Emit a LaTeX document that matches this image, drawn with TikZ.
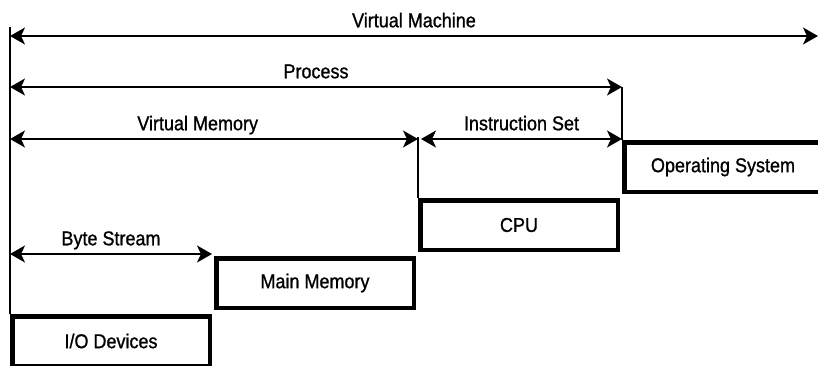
\documentclass[tikz,border=0pt]{standalone}
\usepackage{fontspec}
\setmainfont{Liberation Sans}[FakeStretch=0.9,FakeBold=1]
\usetikzlibrary{arrows.meta,positioning}

\begin{document}
\begin{tikzpicture}[x=1pt,y=-1pt,font=\fontsize{20}{24}\selectfont,
  layer/.style={draw,line width=4.5pt,minimum width=197.5pt,minimum height=49.5pt,inner sep=0pt},
  span/.style={line width=1.5pt,{Stealth[length=15pt,width=17pt,inset=4pt]}-{Stealth[length=15pt,width=17pt,inset=4pt]}},
  rule/.style={line width=1.5pt},
  tag/.style={above=8pt,inner sep=0pt,text depth=0pt}]
\useasboundingbox (0,0) rectangle (818,365);
% the stairs
\node[layer,anchor=north west] (io) at (10,314) {I/O Devices};
\node[layer,above right=4pt and 2pt of io.north east] (mm) {Main Memory};
\node[layer,above right=4pt and 2pt of mm.north east] (cpu) {CPU};
\node[layer,above right=4pt and 2pt of cpu.north east] (os) {Operating System};
% ends of the spans
\coordinate (top) at (10,27);
\coordinate (vmL) at (10,36);
\coordinate (vmR) at (818,36);
\coordinate (prL) at (10,87);
\coordinate (prR) at (os.north west |- prL);
\coordinate (memL) at (10,139);
\coordinate (memR) at (cpu.north west |- memL);
\coordinate (isL) at ([xshift=3pt]memR);
\coordinate (isR) at (prR |- memL);
\coordinate (byL) at (10,254);
\coordinate (byR) at (io.north east |- byL);
\draw[rule] (top) -- (io.north west)
  (prR) -- (os.north west)
  ([yshift=2pt]memR) -- (cpu.north west);
\path[span]
(vmL) edge node[tag] {Virtual Machine} (vmR)
(prL) edge node[tag] {Process} (prR)
(memL) edge node[tag,pos=.46] {Virtual Memory} (memR)
(isL) edge node[tag] {Instruction Set} (isR)
(byL) edge node[tag] {Byte Stream} (byR);
\end{tikzpicture}
\end{document}
